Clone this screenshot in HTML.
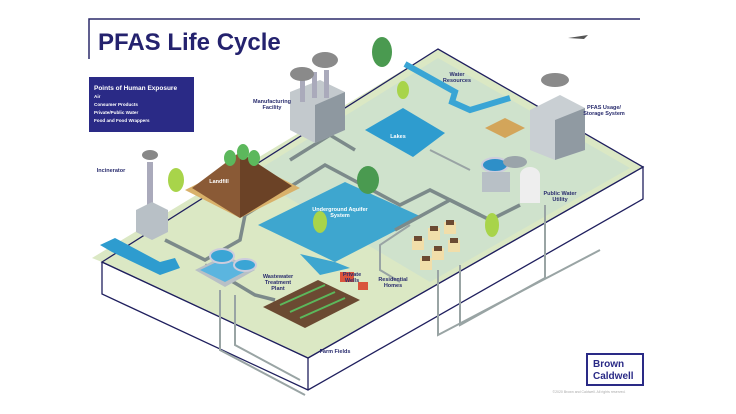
<!DOCTYPE html>
<html><head><meta charset="utf-8"><style>
html,body{margin:0;padding:0;background:#fff;}
svg{display:block;font-family:"Liberation Sans",sans-serif;}
.l{font-size:5.5px;font-weight:bold;fill:#2a2d6e;text-anchor:middle;}
</style></head><body>
<svg width="736" height="414" viewBox="0 0 736 414" xmlns="http://www.w3.org/2000/svg">
<polyline points="89,59 89,19 640,19" fill="none" stroke="#2b2a6a" stroke-width="1.5"/>
<text x="98" y="50" font-size="24" font-weight="bold" fill="#24226e">PFAS Life Cycle</text>
<rect x="89" y="77" width="105" height="55" fill="#2a2a86"/>
<text x="94" y="90" font-size="6.5" font-weight="bold" fill="#fff">Points of  Human Exposure</text>
<g font-size="4.6" font-weight="bold" fill="#fff"><text x="94" y="98">Air</text><text x="94" y="106">Consumer Products</text><text x="94" y="114">Private/Public Water</text><text x="94" y="122">Food and Food Wrappers</text></g>
<polygon points="102,262 308,358 643,167 643,199 308,390 102,294" fill="#fff" stroke="#1f1f5e" stroke-width="1.3"/>
<line x1="308" y1="358" x2="308" y2="390" stroke="#1f1f5e" stroke-width="1.3"/>
<polygon points="92,258 438,49 643,167 308,358 102,262" fill="#dbe8c4"/>
<polygon points="250,175 438,58 630,168 430,282" fill="#cfe2cc"/>
<polygon points="102,262 438,49 643,167 308,358" fill="none" stroke="#1f1f5e" stroke-width="1.3"/>
<polygon points="365,130 403,108 445,133 413,157" fill="#2e9ccf"/>
<polyline points="405,64 455,92 452,102 470,110 510,98" fill="none" stroke="#3aa5d5" stroke-width="6"/>
<polygon points="258,225 345,182 422,217 335,262" fill="#3ea6cf"/>
<polygon points="300,254 335,262 350,268 320,275" fill="#3ea6cf"/>
<g fill="none" stroke="#7c8a8a" stroke-width="3.5">
<polyline points="165,240 205,260 240,240 245,215 325,165 400,205 430,190 490,220 520,205"/>
<polyline points="290,160 330,135 355,150"/>
<polyline points="395,230 450,200 480,215"/>
<polyline points="205,265 255,295 275,300"/>
</g>
<g fill="none" stroke="#99a4a4" stroke-width="2">
<polyline points="220,290 220,350 305,395"/>
<polyline points="235,295 235,345 300,380"/>
<polyline points="438,270 438,335 600,250"/>
<polyline points="460,265 460,325 545,278 545,205"/>
<polyline points="410,225 380,245 380,270 400,282"/>
<polyline points="430,150 470,170"/>
</g>
<polygon points="100,245 115,238 160,262 175,258 180,268 160,275 112,252" fill="#2e9ccf"/>
<polygon points="185,190 240,218 300,188 245,160" fill="#d9b16a"/>
<polygon points="192,188 240,152 240,218" fill="#8a5a36"/>
<polygon points="240,152 292,186 240,218" fill="#6b4226"/>
<g fill="#5cb85c"><ellipse cx="230" cy="158" rx="6" ry="8"/><ellipse cx="243" cy="152" rx="6" ry="8"/><ellipse cx="254" cy="158" rx="6" ry="8"/></g>
<rect x="147" y="162" width="6" height="45" fill="#aab"/>
<polygon points="136,210 152,202 168,210 168,232 152,240 136,232" fill="#b8c0c6"/>
<ellipse cx="150" cy="155" rx="8" ry="5" fill="#888"/>
<polygon points="290,92 320,80 345,92 345,130 315,143 290,130" fill="#c3c9cd"/>
<polygon points="315,105 345,92 345,130 315,143" fill="#8e98a0"/>
<rect x="300" y="78" width="5" height="24" fill="#aab"/><rect x="312" y="72" width="5" height="26" fill="#aab"/><rect x="324" y="70" width="5" height="28" fill="#aab"/>
<ellipse cx="302" cy="74" rx="12" ry="7" fill="#8a8a8a"/><ellipse cx="325" cy="60" rx="13" ry="8" fill="#8a8a8a"/>
<polygon points="530,110 560,95 585,108 585,150 555,160 530,150" fill="#c9cfd3"/>
<polygon points="555,120 585,108 585,150 555,160" fill="#909aa2"/>
<ellipse cx="555" cy="80" rx="14" ry="7" fill="#8a8a8a"/>
<polygon points="485,128 505,118 525,128 505,138" fill="#d3a55a"/>
<ellipse cx="495" cy="165" rx="13" ry="7" fill="#2e8fc8" stroke="#ccd" stroke-width="2"/>
<ellipse cx="515" cy="162" rx="12" ry="6" fill="#9aa4aa"/>
<rect x="520" y="175" width="20" height="28" fill="#eeeeee"/><ellipse cx="530" cy="175" rx="10" ry="8" fill="#eee"/>
<rect x="482" y="172" width="28" height="20" fill="#b8c0c6"/>
<polygon points="195,270 225,255 255,270 225,287" fill="#b8c0c6"/>
<polygon points="200,270 225,258 248,270 225,282" fill="#5bb5df"/>
<ellipse cx="222" cy="256" rx="12" ry="7" fill="#3aa5d5" stroke="#ccd" stroke-width="2"/>
<ellipse cx="245" cy="265" rx="11" ry="6" fill="#3aa5d5" stroke="#ccd" stroke-width="2"/>
<polygon points="263,307 318,280 360,300 305,328" fill="#6b4a32"/>
<g stroke="#5cb85c" stroke-width="2"><line x1="280" y1="305" x2="325" y2="285"/><line x1="290" y1="312" x2="335" y2="292"/><line x1="300" y1="318" x2="345" y2="298"/></g>
<g fill="#d9543c"><rect x="340" y="272" width="14" height="10"/><rect x="358" y="282" width="10" height="8"/></g>
<g fill="#f1deaa"><rect x="412" y="238" width="12" height="12"/><rect x="428" y="228" width="12" height="12"/><rect x="444" y="222" width="12" height="12"/><rect x="432" y="248" width="12" height="12"/><rect x="448" y="240" width="12" height="12"/><rect x="420" y="258" width="12" height="12"/></g>
<g fill="#6b4a32"><rect x="414" y="236" width="8" height="5"/><rect x="430" y="226" width="8" height="5"/><rect x="446" y="220" width="8" height="5"/><rect x="434" y="246" width="8" height="5"/><rect x="450" y="238" width="8" height="5"/><rect x="422" y="256" width="8" height="5"/></g>
<g fill="#4a9a50"><ellipse cx="382" cy="52" rx="10" ry="15"/><ellipse cx="368" cy="180" rx="11" ry="14"/></g>
<g fill="#a8d44a"><ellipse cx="176" cy="180" rx="8" ry="12"/><ellipse cx="320" cy="222" rx="7" ry="11"/><ellipse cx="403" cy="90" rx="6" ry="9"/><ellipse cx="492" cy="225" rx="7" ry="12"/></g>
<text class="l" x="272" y="103">Manufacturing</text><text class="l" x="272" y="109">Facility</text>
<text class="l" x="457" y="76">Water</text><text class="l" x="457" y="82">Resources</text>
<text class="l" x="398" y="138" style="fill:#fff">Lakes</text>
<text class="l" x="604" y="109">PFAS Usage/</text><text class="l" x="604" y="115">Storage System</text>
<text class="l" x="111" y="172">Incinerator</text>
<text class="l" x="219" y="183" style="fill:#fff">Landfill</text>
<text class="l" x="340" y="211" style="fill:#fff">Underground Aquifer</text><text class="l" x="340" y="217" style="fill:#fff">System</text>
<text class="l" x="560" y="195">Public Water</text><text class="l" x="560" y="201">Utility</text>
<text class="l" x="278" y="278">Wastewater</text><text class="l" x="278" y="284">Treatment</text><text class="l" x="278" y="290">Plant</text>
<text class="l" x="352" y="276">Private</text><text class="l" x="352" y="282">Wells</text>
<text class="l" x="393" y="281">Residential</text><text class="l" x="393" y="287">Homes</text>
<text class="l" x="335" y="353">Farm Fields</text>
<path d="M568,38 L588,35 L584,39 Z" fill="#555"/>
<rect x="587" y="354" width="56" height="31" fill="#fff" stroke="#2a2a86" stroke-width="2"/>
<text x="593" y="367" font-size="10" font-weight="bold" fill="#2a2a86">Brown</text>
<text x="593" y="379" font-size="10" font-weight="bold" fill="#2a2a86">Caldwell</text>
<text x="589" y="393" font-size="3.5" fill="#aaa" text-anchor="middle">©2020 Brown and Caldwell. All rights reserved.</text>
</svg>
</body></html>
